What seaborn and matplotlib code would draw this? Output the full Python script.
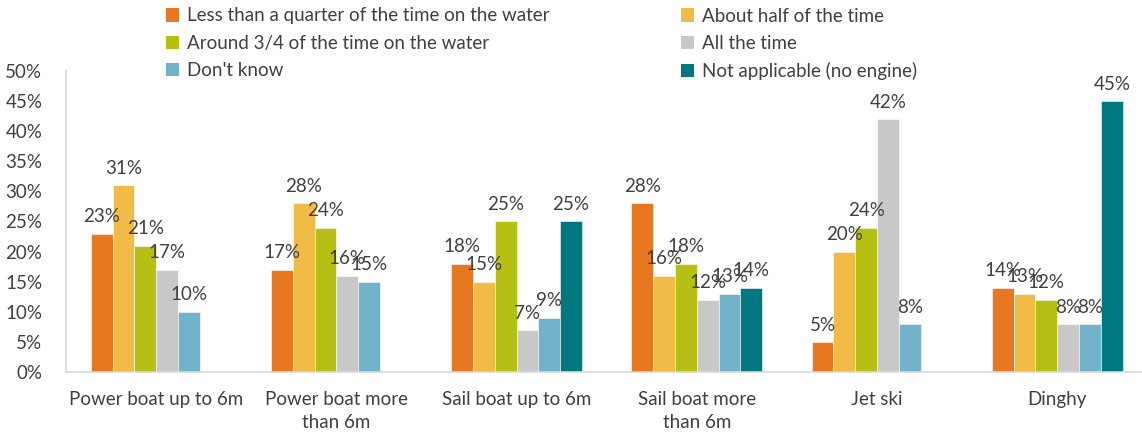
import numpy as np
import pandas as pd
import matplotlib
matplotlib.use("Agg")
import matplotlib.pyplot as plt
import seaborn as sns
from matplotlib.ticker import FuncFormatter, MultipleLocator
from matplotlib.patches import Patch

categories = ["Power boat up to 6m", "Power boat more\nthan 6m", "Sail boat up to 6m",
              "Sail boat more\nthan 6m", "Jet ski", "Dinghy"]
series = ["Less than a quarter of the time on the water", "About half of the time",
          "Around 3/4 of the time on the water", "All the time", "Don't know",
          "Not applicable (no engine)"]

less_quarter = [23, 17, 18, 28, 5, 14]
about_half = [31, 28, 15, 16, 20, 13]
around_3_4 = [21, 24, 25, 18, 24, 12]
all_time = [17, 16, 7, 12, 42, 8]
dont_know = [10, 15, 9, 13, 8, 8]
not_applicable = [None, None, 25, 14, None, 45]

colors = ["#E87722", "#F0BC47", "#B5BF14", "#C8C8C8", "#72B2CA", "#00787F"]

values = [less_quarter, about_half, around_3_4, all_time, dont_know, not_applicable]
rows = []
for s, vals in zip(series, values):
    for c, v in zip(categories, vals):
        rows.append({"category": c, "series": s,
                     "value": np.nan if v is None else v / 100})
df = pd.DataFrame(rows)

sns.set_style("white")
plt.rcParams["font.family"] = ["Lato", "DejaVu Sans"]
text_color = "#404040"
fs = 13.5

fig = plt.figure(figsize=(11.42, 4.34), dpi=100)
ax = fig.add_axes([66 / 1142, 1 - 372 / 434, 1 - 66 / 1142, (372 - 71) / 434])

sns.barplot(data=df, x="category", y="value", hue="series", order=categories,
            hue_order=series, palette=colors, saturation=1, width=0.726, ax=ax,
            edgecolor="white", linewidth=0.4, legend=False, errorbar=None)

for cont in ax.containers:
    ax.bar_label(cont, labels=[f"{b.get_height() * 100:.0f}%" if np.isfinite(b.get_height()) and b.get_height() > 0 else ""
                               for b in cont],
                 padding=6, fontsize=fs, color=text_color)

ax.set_ylim(0, 0.5)
ax.set_xlim(-0.5, 5.47)
ax.yaxis.set_major_locator(MultipleLocator(0.05))
ax.yaxis.set_major_formatter(FuncFormatter(lambda v, _: f"{v * 100:.0f}%"))
ax.set_xlabel("")
ax.set_ylabel("")
ax.tick_params(axis="y", length=0, pad=17, labelsize=fs, labelcolor=text_color)
ax.tick_params(axis="x", length=0, pad=14, labelsize=fs, labelcolor=text_color)
for lab in ax.get_xticklabels():
    lab.set_horizontalalignment("center")
    lab.set_linespacing(1.4)

for side in ["top", "right"]:
    ax.spines[side].set_visible(False)
for side in ["left", "bottom"]:
    ax.spines[side].set_color("#D9D9D9")
    ax.spines[side].set_linewidth(1.2)

handles = [Patch(facecolor=c, edgecolor="none") for c in colors]
order = [0, 2, 4, 1, 3, 5]
fig.legend([handles[i] for i in order], [series[i] for i in order], ncol=2,
           loc="upper left", bbox_to_anchor=(158 / 1142, 1.0), frameon=False,
           fontsize=fs, labelcolor=text_color, handlelength=0.7, handleheight=0.7,
           handletextpad=0.45, columnspacing=7.0, labelspacing=0.55,
           borderaxespad=0.0)

fig.savefig("out.png", dpi=100)
